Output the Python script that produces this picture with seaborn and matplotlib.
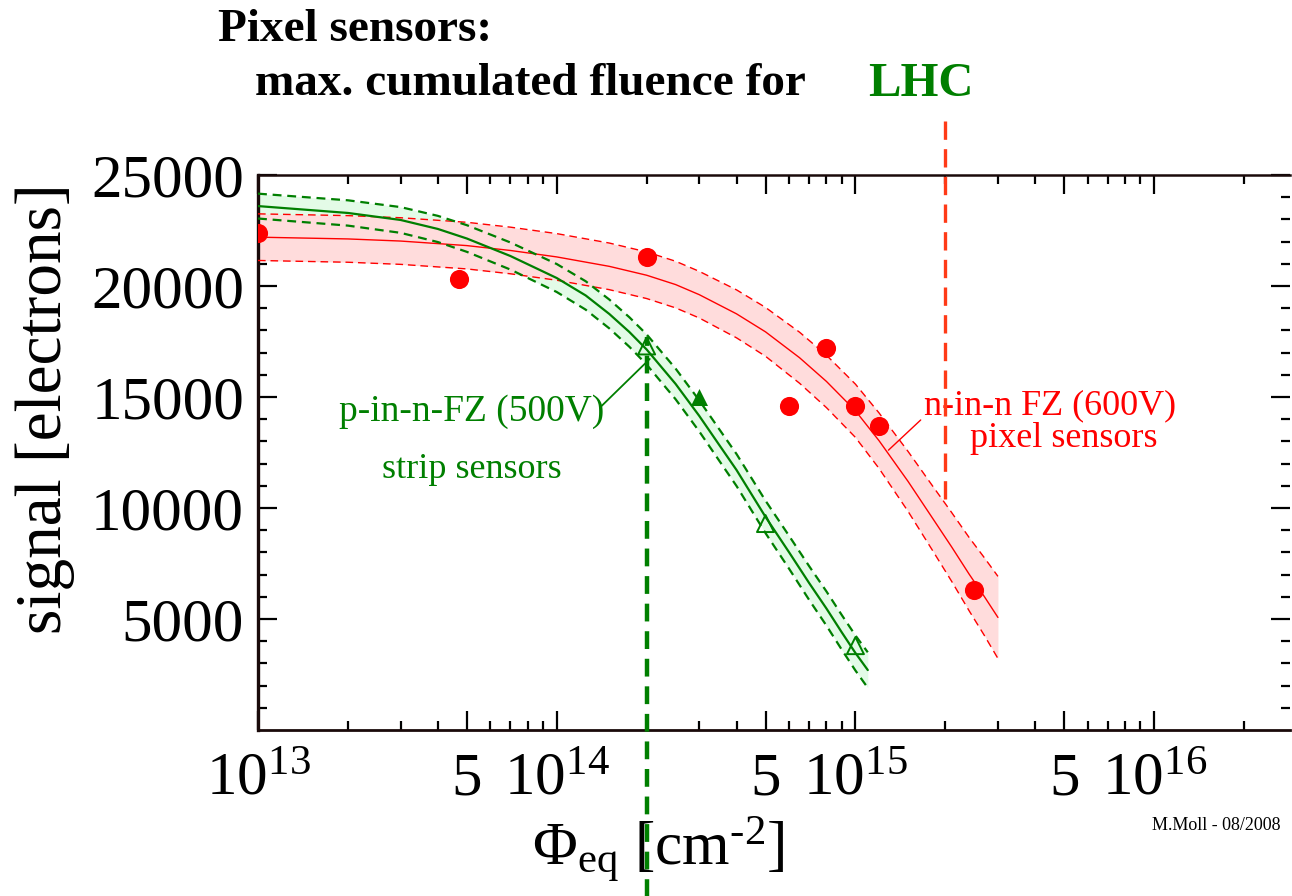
import matplotlib
matplotlib.use('Agg')
import matplotlib.pyplot as plt
from matplotlib.ticker import FixedLocator, FixedFormatter
import seaborn as sns

# n-in-n FZ (600V) pixel sensors, measured points
pix_flu = [1e13, 4.7e13, 2e14, 6e14, 8e14, 1e15, 1.2e15, 2.5e15]
pix_sig = [22400, 20300, 21300, 14600, 17200, 14600, 13700, 6300]

# fit curve and error band
pix_fit_flu = [1e13, 2e13, 3e13, 5e13, 7e13, 1e14, 1.5e14, 2e14, 2.5e14, 3e14, 4e14,
               5e14, 6.5e14, 8e14, 1e15, 1.2e15, 1.5e15, 1.8e15, 2.1e15, 2.4e15, 2.7e15, 3e15]
pix_fit = [22200, 22120, 22025, 21820, 21600, 21310, 20885, 20485, 20065, 19610, 18745,
           17935, 16770, 15700, 14380, 13030, 11200, 9600, 8245, 7030, 6015, 5070]
pix_up = [23250, 23170, 23075, 22870, 22650, 22360, 21935, 21535, 21115, 20660, 19825,
          19035, 17920, 16880, 15580, 14280, 12550, 11050, 9795, 8680, 7765, 6920]
pix_lo = [21150, 21070, 20975, 20770, 20550, 20260, 19835, 19435, 19015, 18560, 17665,
          16835, 15620, 14520, 13180, 11780, 9850, 8150, 6695, 5380, 4265, 3220]

# p-in-n-FZ (500V) strip sensors
strip_open_flu = [2e14, 5e14, 1e15]
strip_open_sig = [17300, 9300, 3800]
strip_full_flu = [3e14]
strip_full_sig = [15000]

strip_fit_flu = [1e13, 2e13, 3e13, 4e13, 5e13, 7e13, 1e14, 1.25e14, 1.5e14, 1.75e14, 2e14,
                 2.5e14, 3e14, 3.5e14, 4e14, 5e14, 6e14, 7e14, 8e14, 9e14, 1e15, 1.1e15]
strip_fit = [23600, 23290, 22975, 22570, 22140, 21350, 20360, 19575, 18740, 17930, 17140,
             15590, 14150, 12840, 11710, 9600, 8000, 6620, 5470, 4400, 3470, 2700]
strip_up = [24160, 23860, 23555, 23160, 22740, 21960, 20990, 20215, 19390, 18595, 17820,
            16280, 14850, 13550, 12430, 10330, 8740, 7380, 6240, 5180, 4260, 3500]
strip_lo = [23040, 22720, 22395, 21980, 21540, 20740, 19730, 18935, 18090, 17265, 16460,
            14900, 13450, 12130, 10990, 8870, 7260, 5860, 4700, 3620, 2680, 1900]

# LHC max fluences
lhc_strip = 2e14
lhc_pixel = 2e15

xtick_vals = [1e13, 5e13, 1e14, 5e14, 1e15, 5e15, 1e16]
xtick_labels = ['$10^{13}$', '5', '$10^{14}$', '5', '$10^{15}$', '5', '$10^{16}$']
xminor_vals = [m * 10.0 ** e for e in (13, 14, 15, 16) for m in (2, 3, 4, 6, 7, 8, 9)]
ytick_vals = [5000, 10000, 15000, 20000, 25000]

sns.set_style('ticks')
plt.rcParams['font.family'] = ['Liberation Serif', 'DejaVu Serif']
plt.rcParams['mathtext.fontset'] = 'custom'
plt.rcParams['mathtext.rm'] = 'Liberation Serif'
plt.rcParams['mathtext.it'] = 'Liberation Serif:italic'
plt.rcParams['mathtext.bf'] = 'Liberation Serif:bold'
for key in ('text.color', 'axes.labelcolor', 'xtick.color', 'ytick.color'):
    plt.rcParams[key] = 'black'

red = '#ff0000'
green = '#007f00'

fig = plt.figure(figsize=(12.92, 8.96), dpi=100)
ax = fig.add_axes([258 / 1292, 166 / 896, 1032 / 1292, 555 / 896])
ax.set_xscale('log')

# bands: green fill first, red fill over it, lines on top
ax.fill_between(strip_fit_flu, strip_lo, strip_up, color='#e3fbe7', lw=0, zorder=1)
ax.fill_between(pix_fit_flu, pix_lo, pix_up, color='#ffdcdc', lw=0, zorder=1.5)

sns.lineplot(x=pix_fit_flu, y=pix_fit, ax=ax, color=red, lw=1.0, zorder=3)
for band in (pix_up, pix_lo):
    sns.lineplot(x=pix_fit_flu, y=band, ax=ax, color=red, lw=1.0, zorder=3).lines[-1].set_dashes((5.5, 3.5))

sns.lineplot(x=strip_fit_flu, y=strip_fit, ax=ax, color=green, lw=1.6, zorder=3)
for band in (strip_up, strip_lo):
    sns.lineplot(x=strip_fit_flu, y=band, ax=ax, color=green, lw=1.6, zorder=3).lines[-1].set_dashes((4, 2.6))

# measured points
sns.scatterplot(x=pix_flu, y=pix_sig, ax=ax, color=red, s=190, linewidth=0, zorder=5)
sns.scatterplot(x=strip_full_flu, y=strip_full_sig, ax=ax, marker='^', color=green, s=150, linewidth=0, zorder=5)
ax.scatter(strip_open_flu, strip_open_sig, marker='^', s=150, facecolors='none', edgecolors=green, linewidths=1.4, zorder=5)

# LHC fluence markers
ax.plot([lhc_strip, lhc_strip], [-7600, 17700], color=green, lw=3.2, dashes=(4, 2.2), clip_on=False, zorder=4)
ax.plot([lhc_pixel, lhc_pixel], [10400, 27500], color='#ff3a17', lw=2.4, dashes=(5.5, 2.8), clip_on=False, zorder=4)

# labels with pointer lines
ax.annotate('', xy=(2.08e14, 16800), xytext=(1.38e14, 14460),
            arrowprops=dict(arrowstyle='-', color=green, lw=1.3))
ax.text(5.2e13, 14350, 'p-in-n-FZ (500V)', color=green, fontsize=27, ha='center', va='center')
ax.text(5.2e13, 11750, 'strip sensors', color=green, fontsize=26, ha='center', va='center')
ax.annotate('', xy=(1.27e15, 12520), xytext=(1.68e15, 14050),
            arrowprops=dict(arrowstyle='-', color=red, lw=1.0))
ax.text(4.5e15, 14600, 'n-in-n FZ (600V)', color=red, fontsize=26, ha='center', va='center')
ax.text(5.0e15, 13150, 'pixel sensors', color=red, fontsize=26, ha='center', va='center')

ax.set_xlim(1e13, 2.85e16)
ax.set_ylim(0, 25000)

ax.xaxis.set_major_locator(FixedLocator(xtick_vals))
ax.xaxis.set_major_formatter(FixedFormatter(xtick_labels))
ax.xaxis.set_minor_locator(FixedLocator(xminor_vals))
ax.xaxis.set_minor_formatter(FixedFormatter([''] * len(xminor_vals)))
ax.set_yticks(ytick_vals)
ax.set_yticks(range(1000, 25000, 1000), minor=True)
ax.set_yticklabels([str(v) for v in ytick_vals])

ax.tick_params(which='both', direction='in', top=True, right=True, color='black', width=1.6)
ax.tick_params(which='major', length=14, labelsize=44)
ax.tick_params(which='minor', length=6.5)
ax.tick_params(axis='x', which='major', pad=16)
ax.tick_params(axis='y', which='major', pad=10)

for side in ('left', 'bottom', 'top'):
    ax.spines[side].set_color('#1a0a0a')
ax.spines['left'].set_linewidth(2.4)
ax.spines['bottom'].set_linewidth(2.0)
ax.spines['top'].set_linewidth(1.8)
ax.spines['right'].set_visible(False)

ax.set_xlabel('')
ax.set_ylabel('')
fig.text(45 / 1292, 1 - 409 / 896, 'signal [electrons]', rotation=90, fontsize=47,
         ha='center', va='center')
fig.text(658 / 1292, 1 - 850 / 896, r'$\Phi_{\mathrm{eq}}$ [cm$^{\text{-}2}$]', fontsize=44,
         ha='center', va='center')

fig.text(218 / 1292, 1 - 30 / 896, 'Pixel sensors:', fontsize=34, fontweight='bold',
         ha='left', va='center')
fig.text(255 / 1292, 1 - 84 / 896, 'max. cumulated fluence for', fontsize=34, fontweight='bold',
         ha='left', va='center')
fig.text(921 / 1292, 1 - 84 / 896, 'LHC', fontsize=35, fontweight='bold', color=green,
         ha='center', va='center')
fig.text(1281 / 1292, 1 - 825 / 896, 'M.Moll - 08/2008', fontsize=13, ha='right', va='center')

fig.savefig('out.png', dpi=100)
